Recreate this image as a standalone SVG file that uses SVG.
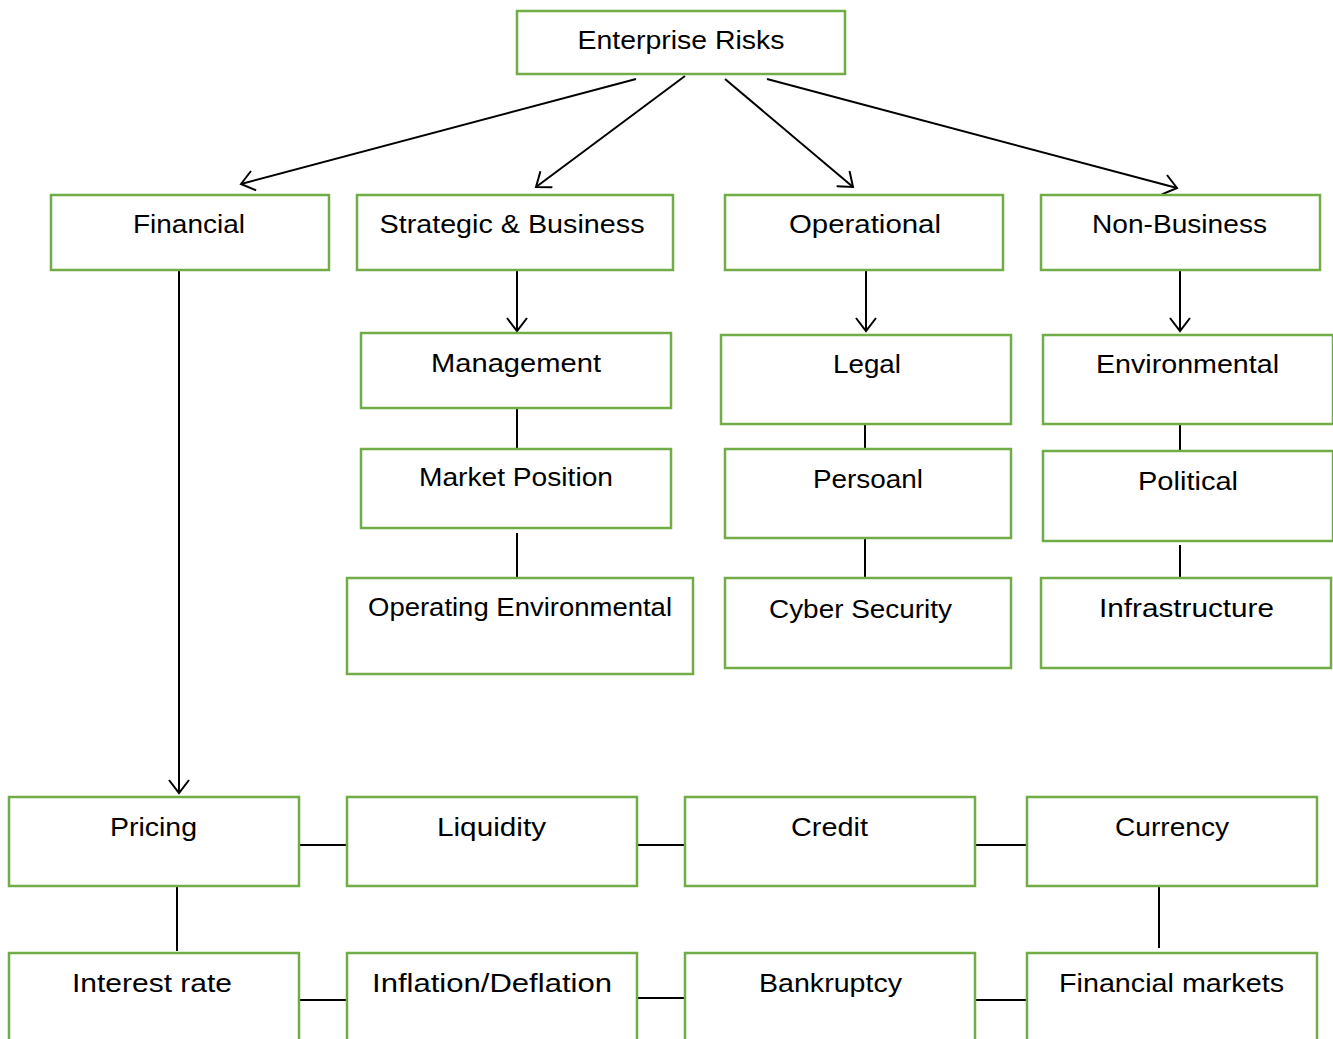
<svg xmlns="http://www.w3.org/2000/svg" width="1333" height="1039" viewBox="0 0 1333 1039">
<defs>
<style>
.box{fill:#fff;stroke:#70AD47;stroke-width:2.5}
.t{font-family:"Liberation Sans",Arial,sans-serif;font-size:26.5px;fill:#000;text-anchor:middle}
.c{stroke:#000;stroke-width:2;fill:none}
.a{marker-end:url(#arr)}
</style>
<marker id="arr" markerUnits="userSpaceOnUse" viewBox="-14 -11 16 22" markerWidth="16" markerHeight="22" refX="0" refY="0" orient="auto">
<path d="M-13,-10 L0,0 L-13,10" fill="none" stroke="#000" stroke-width="2"/>
</marker>
</defs>
<rect width="1333" height="1039" fill="#fff"/>
<g id="connectors">
<line class="c a" x1="636" y1="79" x2="241" y2="184"/>
<line class="c a" x1="685" y1="76" x2="536" y2="187"/>
<line class="c a" x1="725" y1="79" x2="853" y2="187"/>
<line class="c a" x1="767" y1="79" x2="1177" y2="188"/>
<line class="c a" x1="179" y1="270" x2="179" y2="793"/>
<line class="c a" x1="517" y1="270" x2="517" y2="331"/>
<line class="c a" x1="866" y1="270" x2="866" y2="331"/>
<line class="c a" x1="1180" y1="270" x2="1180" y2="331"/>
<line class="c" x1="517" y1="408" x2="517" y2="449"/>
<line class="c" x1="517" y1="533" x2="517" y2="577"/>
<line class="c" x1="865" y1="424" x2="865" y2="449"/>
<line class="c" x1="865" y1="538" x2="865" y2="578"/>
<line class="c" x1="1180" y1="424" x2="1180" y2="451"/>
<line class="c" x1="1180" y1="545" x2="1180" y2="578"/>
<line class="c" x1="299" y1="845" x2="347" y2="845"/>
<line class="c" x1="637" y1="845" x2="685" y2="845"/>
<line class="c" x1="975" y1="845" x2="1027" y2="845"/>
<line class="c" x1="177" y1="886" x2="177" y2="951"/>
<line class="c" x1="1159" y1="886" x2="1159" y2="948"/>
<line class="c" x1="299" y1="1000" x2="347" y2="1000"/>
<line class="c" x1="637" y1="998" x2="685" y2="998"/>
<line class="c" x1="975" y1="1000" x2="1027" y2="1000"/>
</g>
<g id="enterprise"><rect class="box" x="517" y="11" width="328" height="63"/><text class="t" x="681" y="49" textLength="207" lengthAdjust="spacingAndGlyphs">Enterprise Risks</text></g>
<g id="financial"><rect class="box" x="51" y="195" width="278" height="75"/><text class="t" x="189" y="233" textLength="112" lengthAdjust="spacingAndGlyphs">Financial</text></g>
<g id="strategic"><rect class="box" x="357" y="195" width="316" height="75"/><text class="t" x="512" y="233" textLength="265" lengthAdjust="spacingAndGlyphs">Strategic &amp; Business</text></g>
<g id="operational"><rect class="box" x="725" y="195" width="278" height="75"/><text class="t" x="865" y="233" textLength="152" lengthAdjust="spacingAndGlyphs">Operational</text></g>
<g id="nonbusiness"><rect class="box" x="1041" y="195" width="279" height="75"/><text class="t" x="1179.5" y="233" textLength="175" lengthAdjust="spacingAndGlyphs">Non-Business</text></g>
<g id="management"><rect class="box" x="361" y="333" width="310" height="75"/><text class="t" x="516" y="372" textLength="170" lengthAdjust="spacingAndGlyphs">Management</text></g>
<g id="legal"><rect class="box" x="721" y="335" width="290" height="89"/><text class="t" x="867" y="373" textLength="68" lengthAdjust="spacingAndGlyphs">Legal</text></g>
<g id="environmental"><rect class="box" x="1043" y="335" width="290" height="89"/><text class="t" x="1187.5" y="373" textLength="183" lengthAdjust="spacingAndGlyphs">Environmental</text></g>
<g id="marketposition"><rect class="box" x="361" y="449" width="310" height="79"/><text class="t" x="516" y="486" textLength="194" lengthAdjust="spacingAndGlyphs">Market Position</text></g>
<g id="persoanl"><rect class="box" x="725" y="449" width="286" height="89"/><text class="t" x="868" y="488" textLength="110" lengthAdjust="spacingAndGlyphs">Persoanl</text></g>
<g id="political"><rect class="box" x="1043" y="451" width="290" height="90"/><text class="t" x="1188" y="490" textLength="100" lengthAdjust="spacingAndGlyphs">Political</text></g>
<g id="operatingenv"><rect class="box" x="347" y="578" width="346" height="96"/><text class="t" x="520" y="616" textLength="304" lengthAdjust="spacingAndGlyphs">Operating Environmental</text></g>
<g id="cybersecurity"><rect class="box" x="725" y="578" width="286" height="90"/><text class="t" x="860.5" y="618" textLength="183" lengthAdjust="spacingAndGlyphs">Cyber Security</text></g>
<g id="infrastructure"><rect class="box" x="1041" y="578" width="290" height="90"/><text class="t" x="1186.5" y="617" textLength="175" lengthAdjust="spacingAndGlyphs">Infrastructure</text></g>
<g id="pricing"><rect class="box" x="9" y="797" width="290" height="89"/><text class="t" x="153.5" y="836" textLength="87" lengthAdjust="spacingAndGlyphs">Pricing</text></g>
<g id="liquidity"><rect class="box" x="347" y="797" width="290" height="89"/><text class="t" x="491.5" y="836" textLength="109" lengthAdjust="spacingAndGlyphs">Liquidity</text></g>
<g id="credit"><rect class="box" x="685" y="797" width="290" height="89"/><text class="t" x="829.5" y="836" textLength="77" lengthAdjust="spacingAndGlyphs">Credit</text></g>
<g id="currency"><rect class="box" x="1027" y="797" width="290" height="89"/><text class="t" x="1172" y="836" textLength="114" lengthAdjust="spacingAndGlyphs">Currency</text></g>
<g id="interestrate"><rect class="box" x="9" y="953" width="290" height="100"/><text class="t" x="152" y="992" textLength="160" lengthAdjust="spacingAndGlyphs">Interest rate</text></g>
<g id="inflation"><rect class="box" x="347" y="953" width="290" height="100"/><text class="t" x="492" y="992" textLength="240" lengthAdjust="spacingAndGlyphs">Inflation/Deflation</text></g>
<g id="bankruptcy"><rect class="box" x="685" y="953" width="290" height="100"/><text class="t" x="830.5" y="992" textLength="143" lengthAdjust="spacingAndGlyphs">Bankruptcy</text></g>
<g id="financialmarkets"><rect class="box" x="1027" y="953" width="290" height="100"/><text class="t" x="1171.5" y="992" textLength="225" lengthAdjust="spacingAndGlyphs">Financial markets</text></g>
</svg>
